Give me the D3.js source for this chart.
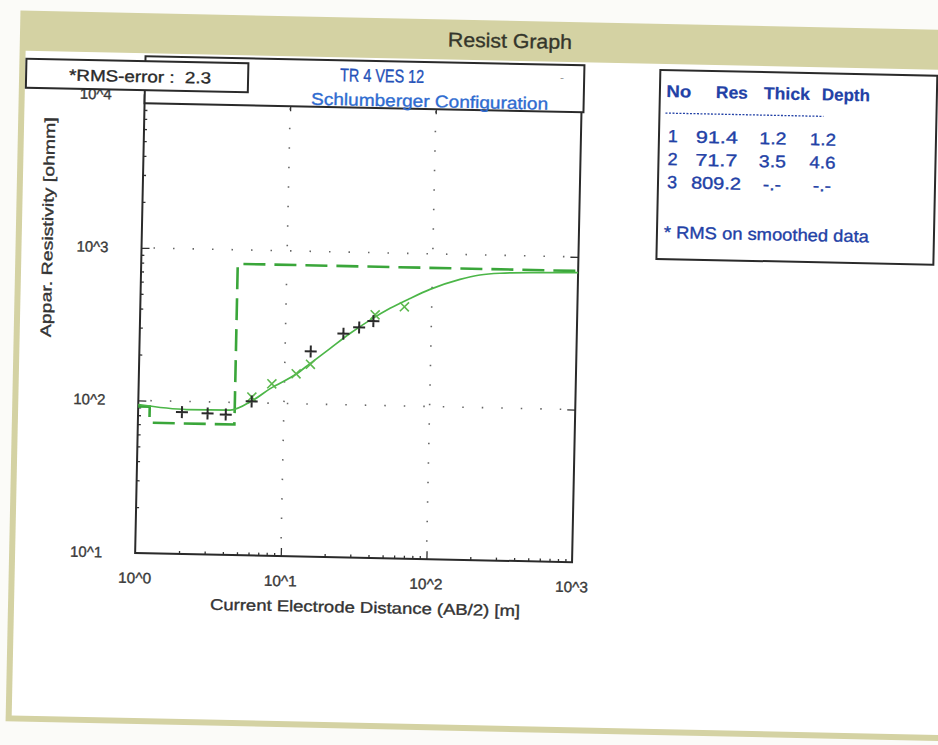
<!DOCTYPE html>
<html><head><meta charset="utf-8">
<script src="https://d3js.org/d3.v7.min.js"></script>
<style>body{margin:0;background:#fbfbf8;}svg{display:block;}</style>
</head><body>
<script>
// ---- data ----
const xTickValues = [1, 10, 100, 1000];
const xTickLabels = ["10^0", "10^1", "10^2", "10^3"];
const yTickValues = [10, 100, 1000, 10000];
const yTickLabels = ["10^1", "10^2", "10^3", "10^4"];
// observed field data (black +)
const obsAB  = [2, 3, 4, 6, 15, 25, 32, 40];
const obsRho = [85, 84, 83, 102, 221, 292, 322, 356];
// smoothed data (green x)
const smAB  = [6, 8.2, 12, 15, 41, 65];
const smRho = [109, 134, 157, 182, 392, 446];
// calculated model curve (solid green)
const curveAB  = [1, 2.16, 4.28, 6.12, 8, 12.1, 14.9, 20.3, 27.7, 37.9, 51.8, 70.8, 96.8, 155, 212, 291, 548, 1000];
const curveRho = [94, 88.5, 89, 104, 124.5, 157, 184, 232, 293, 361, 434, 507, 585, 687, 738, 763, 780, 790];
// layer model table
const layerNo    = ["1", "2", "3"];
const layerRes   = [91.4, 71.7, 809.2];
const layerThick = ["1.2", "3.5", "-.-"];
const layerDepth = [1.2, 4.6];
const layerDepthLabels = ["1.2", "4.6", "-.-"];
const rmsError = "2.3";
const titleLines = ["TR 4 VES 12", "Schlumberger Configuration"];

// ---- layout ----
const W = 938, H = 745;
const L = 139, R = 576, T = 102, B = 560;
const svg = d3.select("body").append("svg").attr("width", W).attr("height", H);
const g = svg.append("g").attr("transform", "rotate(1.2,469,372)");
const font = "'Liberation Sans', Arial, sans-serif";

function txt(parent, x0, y0, s, size, fill, len, anchor) {
  const t = parent.append("text").attr("x", x0).attr("y", y0).attr("font-family", font)
    .attr("font-size", size).attr("fill", fill).attr("stroke", fill).attr("stroke-width", 0.35)
    .attr("text-anchor", anchor || "middle").attr("xml:space", "preserve").text(s);
  if (len) t.attr("textLength", len).attr("lengthAdjust", "spacingAndGlyphs");
  return t;
}

// window frame
g.append("rect").attr("x", 13).attr("y", 20).attr("width", 1000).attr("height", 711).attr("fill", "#d4d2a3");
g.append("rect").attr("x", 19).attr("y", 60).attr("width", 1000).attr("height", 665).attr("fill", "#ffffff");
txt(g, 503, 47, "Resist Graph", 20, "#34362b", 124);

const x = d3.scaleLog().domain([1, 1000]).range([L, R]);
const y = d3.scaleLog().domain([10, 10000]).range([B, T]);

// dotted grid
const grid = g.append("g").attr("stroke", "#666").attr("stroke-width", 1.6).attr("stroke-dasharray", "1.5,18").attr("fill", "none");
[10, 100].forEach(v => grid.append("line").attr("x1", x(v)).attr("x2", x(v)).attr("y1", 112).attr("y2", B - 4));
[100, 1000].forEach(v => grid.append("line").attr("x1", L + 12).attr("x2", R - 4).attr("y1", y(v)).attr("y2", y(v)));

// axes with minor ticks
const minor = [];
for (let d = 1; d < 1000; d *= 10) for (let k = 2; k <= 9; k++) minor.push(d * k);
const minorY = [];
for (let d = 10; d < 10000; d *= 10) for (let k = 2; k <= 9; k++) minorY.push(d * k);

const axB = g.append("g").attr("transform", `translate(0,${B})`)
  .call(d3.axisTop(x).tickValues(minor).tickSize(3).tickFormat(""));
const axB2 = g.append("g").attr("transform", `translate(0,${B})`)
  .call(d3.axisTop(x).tickValues([10, 100]).tickSize(8).tickFormat(""));
const axL = g.append("g").attr("transform", `translate(${L},0)`)
  .call(d3.axisRight(y).tickValues(minorY.filter(v => y(v) > 112)).tickSize(3).tickFormat(""));
const axL2 = g.append("g").attr("transform", `translate(${L},0)`)
  .call(d3.axisRight(y).tickValues([100, 1000]).tickSize(8).tickFormat(""));
const axR = g.append("g").attr("transform", `translate(${R},0)`)
  .call(d3.axisLeft(y).tickValues([100, 1000]).tickSize(8).tickFormat(""));
const axT = g.append("g").attr("transform", `translate(0,110)`)
  .call(d3.axisBottom(x).tickValues([10, 100]).tickSize(5).tickFormat(""));
[axB, axB2, axL, axL2, axR, axT].forEach(a => {
  a.selectAll("path").remove();
  a.selectAll("line").attr("stroke", "#333").attr("stroke-width", 1.3);
});
g.append("rect").attr("x", L).attr("y", T).attr("width", R - L).attr("height", B - T)
  .attr("fill", "none").attr("stroke", "#2a2a2a").attr("stroke-width", 2);

// tick labels
xTickValues.forEach((v, i) => txt(g, x(v), 590, xTickLabels[i], 15, "#3a3a3a", 33));
yTickValues.forEach((v, i) => txt(g, 90, y(v) + 5, yTickLabels[i], 15, "#3a3a3a", 32));
txt(g, 370, 615, "Current Electrode Distance (AB/2) [m]", 15.5, "#333", 310);
txt(g, 0, 0, "Appar. Resistivity [ohmm]", 15, "#333", 220).attr("transform", "translate(50,236) rotate(-90)");

// model (dashed step)
const stepPts = [[x.domain()[0], layerRes[0]], [layerDepth[0], layerRes[0]], [layerDepth[0], layerRes[1]],
  [layerDepth[1], layerRes[1]], [layerDepth[1], layerRes[2]], [x.domain()[1], layerRes[2]]];
const line = d3.line().x(d => x(d[0])).y(d => y(d[1]));
g.append("path").attr("d", line(stepPts)).attr("fill", "none").attr("stroke", "#3aa63a")
  .attr("stroke-width", 2.6).attr("stroke-dasharray", "22,9");
// calculated curve
g.append("path").attr("d", d3.line().curve(d3.curveMonotoneX).x(d => x(d[0])).y(d => y(d[1]))(curveAB.map((a, i) => [a, curveRho[i]])))
  .attr("fill", "none").attr("stroke", "#4cb648").attr("stroke-width", 1.7);

// smoothed data x
smAB.forEach((a, i) => {
  const cx = x(a), cy = y(smRho[i]), s = 4.5;
  g.append("path").attr("d", `M${cx - s},${cy - s}L${cx + s},${cy + s}M${cx - s},${cy + s}L${cx + s},${cy - s}`)
    .attr("stroke", "#5cb84e").attr("stroke-width", 1.6);
});
// observed +
obsAB.forEach((a, i) => {
  const cx = x(a), cy = y(obsRho[i]), s = 6;
  g.append("path").attr("d", `M${cx - s},${cy}L${cx + s},${cy}M${cx},${cy - s}L${cx},${cy + s}`)
    .attr("stroke", "#2a2a2a").attr("stroke-width", 2);
});

// title box
g.append("rect").attr("x", L).attr("y", 63).attr("width", R - L + 2).attr("height", 47)
  .attr("fill", "#fff").attr("stroke", "#2a2a2a").attr("stroke-width", 2);
txt(g, 376, 84, titleLines[0], 18.5, "#2451b8", 84);
txt(g, 424, 108, titleLines[1], 17, "#2e6bd0", 237);
g.append("text").attr("x", 554).attr("y", 80).attr("font-family", font).attr("font-size", 12).attr("fill", "#999").text("-");

// RMS box
g.append("rect").attr("x", 20).attr("y", 68).attr("width", 222).attr("height", 29)
  .attr("fill", "#fff").attr("stroke", "#2a2a2a").attr("stroke-width", 2);
txt(g, 134, 89, "*RMS-error :  " + rmsError, 16, "#2a2a2a", 142);

// layer table
const tb = g.append("g");
const blue = "#2241a6";
tb.append("rect").attr("x", 654).attr("y", 66).attr("width", 277).attr("height", 189)
  .attr("fill", "#fff").attr("stroke", "#2a2a2a").attr("stroke-width", 2);
const heads = ["No", "Res", "Thick", "Depth"], hx = [673, 726, 781, 840], hw = [25, 32, 46, 48];
heads.forEach((h, i) => txt(tb, hx[i], 93, h, 17, blue, hw[i]).attr("font-weight", "bold").attr("stroke-width", 0.2));
tb.append("line").attr("x1", 660).attr("x2", 818).attr("y1", 109).attr("y2", 109)
  .attr("stroke", blue).attr("stroke-width", 1.3).attr("stroke-dasharray", "2,1.5");
layerNo.forEach((n, i) => {
  const yy = 138 + i * 23;
  txt(tb, 668, yy, n, 17.5, blue, 10);
  txt(tb, 712, yy, layerRes[i].toFixed(1), 17, blue, i === 2 ? 50 : 42);
  txt(tb, 768, yy, layerThick[i], 17, blue, i === 2 ? 18 : 27);
  txt(tb, 818, yy, layerDepthLabels[i], 17, blue, i === 2 ? 18 : 26);
});
txt(tb, 661, 234, "* RMS on smoothed data", 17, blue, 205, "start");
</script>
</body></html>
